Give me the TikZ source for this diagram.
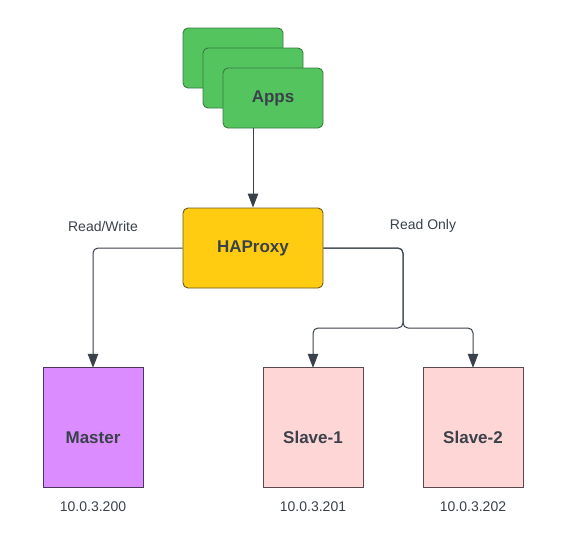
\documentclass[tikz,border=0pt]{standalone}
\usepackage{fontspec}
\setmainfont{Liberation Sans}
\usetikzlibrary{shapes.geometric,arrows.meta}
\definecolor{inkdark}{HTML}{3A414A}
\definecolor{appgreen}{HTML}{54C45E}
\definecolor{appedge}{HTML}{3A7A45}
\definecolor{hayellow}{HTML}{FFCC11}
\definecolor{haedge}{HTML}{6B5A1E}
\definecolor{mpurple}{HTML}{DB8DFF}
\definecolor{medge}{HTML}{4B3560}
\definecolor{spink}{HTML}{FFD6D6}
\definecolor{sedge}{HTML}{5A4A50}
\tikzset{
  appbox/.style={draw=appedge,line width=0.9pt,fill=appgreen,rounded corners=5pt,minimum width=100pt,minimum height=60pt,inner sep=0pt,text=inkdark,font=\fontsize{17}{20}\selectfont\bfseries},
  proxybox/.style={draw=haedge,line width=0.9pt,fill=hayellow,rounded corners=5pt,minimum width=140pt,minimum height=80pt,inner sep=0pt,text=inkdark,font=\fontsize{17}{20}\selectfont\bfseries},
  dbase/.style={cylinder,shape border rotate=90,shape aspect=4.17,draw,line width=0.9pt,cylinder uses custom fill,minimum width=100pt,minimum height=120pt,inner sep=0pt,outer sep=0pt},
  masterdb/.style={dbase,draw=medge,cylinder body fill=mpurple,cylinder end fill=mpurple},
  slavedb/.style={dbase,draw=sedge,cylinder body fill=spink,cylinder end fill=spink},
  dbtitle/.style={text=inkdark,inner sep=0pt,font=\fontsize{17}{20}\selectfont\bfseries},
  plain/.style={text=inkdark,inner sep=0pt,font=\fontsize{14}{17}\selectfont},
  conn/.style={draw=inkdark,line width=1pt,rounded corners=5pt,-{Triangle[length=14pt,width=10.5pt]}}
}
\begin{document}
\begin{tikzpicture}[x=1pt,y=-1pt]
\useasboundingbox (0,0) rectangle (573,554);
\node[appbox] (a1) at (233,58) {};
\node[appbox] (a2) at (253,78) {};
\node[appbox] (apps) at (273,98) {Apps};
\node[proxybox] (ha) at (253,248) {HAProxy};
\node[masterdb] (m) at (93,428) {};
\node[slavedb] (s1) at (313,428) {};
\node[slavedb] (s2) at (473,428) {};
\node[dbtitle] (mt) at (93,437.5) {Master};
\node[dbtitle] (s1t) at (313,437.5) {Slave-1};
\node[dbtitle] (s2t) at (473,437.5) {Slave-2};
\node[plain] (ip0) at (93,507) {10.0.3.200};
\node[plain] (ip1) at (313,507) {10.0.3.201};
\node[plain] (ip2) at (473,507) {10.0.3.202};
\node[plain] (rw) at (103,226) {Read/Write};
\node[plain] (ro) at (423,226) {Read Only};
\coordinate (jr) at (403,248);
\coordinate (jm) at (403,328);
\draw[conn] (apps.south -| 253,128) -- (ha.north);
\draw[conn] (ha.west) -| (m.north);
\draw[conn] (ha.east) -- (jr) -- (jm) -| (s1.north);
\draw[conn] (ha.east) -- (jr) -- (jm) -| (s2.north);
\end{tikzpicture}
\end{document}
